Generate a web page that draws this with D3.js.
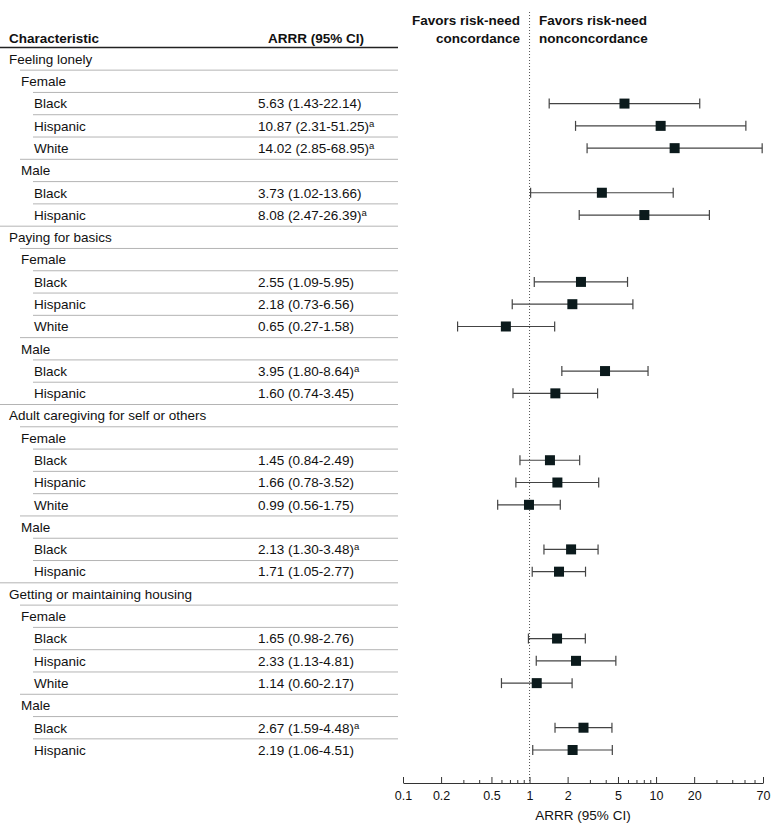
<!DOCTYPE html>
<html>
<head>
<meta charset="utf-8">
<script src="https://cdn.jsdelivr.net/npm/d3@7"></script>
<style>
  body { margin: 0; background: #fff; }
  svg { font-family: "Liberation Sans", Arial, sans-serif; }
</style>
</head>
<body>
<svg width="780" height="836"></svg>
<script>
////////////////////////////// DATA //////////////////////////////

// one entry per table row; level = indent (0 domain, 1 sex, 2 race)
var rowLabels = ['Feeling lonely', 'Female', 'Black', 'Hispanic', 'White', 'Male', 'Black', 'Hispanic',
                 'Paying for basics', 'Female', 'Black', 'Hispanic', 'White', 'Male', 'Black', 'Hispanic',
                 'Adult caregiving for self or others', 'Female', 'Black', 'Hispanic', 'White', 'Male', 'Black', 'Hispanic',
                 'Getting or maintaining housing', 'Female', 'Black', 'Hispanic', 'White', 'Male', 'Black', 'Hispanic'];
var rowLevels = [0,1,2,2,2,1,2,2, 0,1,2,2,2,1,2,2, 0,1,2,2,2,1,2,2, 0,1,2,2,2,1,2,2];

var arrr   = [null,null,5.63,10.87,14.02,null,3.73,8.08,  null,null,2.55,2.18,0.65,null,3.95,1.60,
              null,null,1.45,1.66,0.99,null,2.13,1.71,  null,null,1.65,2.33,1.14,null,2.67,2.19];
var ciLow  = [null,null,1.43,2.31,2.85,null,1.02,2.47,  null,null,1.09,0.73,0.27,null,1.80,0.74,
              null,null,0.84,0.78,0.56,null,1.30,1.05,  null,null,0.98,1.13,0.60,null,1.59,1.06];
var ciHigh = [null,null,22.14,51.25,68.95,null,13.66,26.39,  null,null,5.95,6.56,1.58,null,8.64,3.45,
              null,null,2.49,3.52,1.75,null,3.48,2.77,  null,null,2.76,4.81,2.17,null,4.48,4.51];
// footnote a
var sigFlag = [0,0,0,1,1,0,0,1, 0,0,0,0,0,0,1,0, 0,0,0,0,0,0,1,0, 0,0,0,0,0,0,1,0];

var majorTicks = [0.1, 0.2, 0.5, 1, 2, 5, 10, 20, 70];
var minorTicks = [0.3, 0.4, 0.6, 0.7, 0.8, 0.9, 3, 4, 6, 7, 8, 9, 30, 40, 50, 60];

////////////////////////////// PARAMS //////////////////////////////

var svg = d3.select("svg");

var params = {'fontSize': 13.5,
              'indent': [9, 21, 34],
              'ruleStart': [0, 20, 33],
              'tableRight': 398,
              'numX': 258,
              'axisY': 783,
              'markSize': 10,
              'capHeight': 10};

var y = d3.scalePoint().domain(d3.range(rowLabels.length)).range([59, 750]);
var x = d3.scaleLog().domain([0.1, 70]).range([403, 763]);
var rowStep = y.step();

var fmt = d3.format('.2f');

////////////////////////////// TABLE //////////////////////////////

var table = svg.append('g').attr('class', 'table');

table.append('text').attr('x', params.indent[0]).attr('y', 42.5)
    .attr('font-size', params.fontSize).attr('font-weight', 'bold').attr('fill', '#111')
    .text('Characteristic');
table.append('text').attr('x', 268).attr('y', 42.5)
    .attr('font-size', params.fontSize).attr('font-weight', 'bold').attr('fill', '#111')
    .text('ARRR (95% CI)');
table.append('line').attr('x1', 0).attr('x2', params.tableRight)
    .attr('y1', 47.5).attr('y2', 47.5).attr('stroke', '#222').attr('stroke-width', 1.5);

// rules between rows start at the indent of the row below
var rules = d3.range(rowLabels.length - 1);
table.selectAll('line.rule').data(rules).enter().append('line')
    .attr('class', 'rule')
    .attr('x1', function(i) { return params.ruleStart[rowLevels[i + 1]]; })
    .attr('x2', params.tableRight)
    .attr('y1', function(i) { return y(i) + rowStep / 2; })
    .attr('y2', function(i) { return y(i) + rowStep / 2; })
    .attr('stroke', '#b4b4b4').attr('stroke-width', 1);

table.selectAll('text.label').data(rowLabels).enter().append('text')
    .attr('class', 'label')
    .attr('x', function(d, i) { return params.indent[rowLevels[i]]; })
    .attr('y', function(d, i) { return y(i) + 4.8; })
    .attr('font-size', params.fontSize).attr('fill', '#111')
    .text(function(d) { return d; });

var numRows = d3.range(rowLabels.length).filter(function(i) { return arrr[i] != null; });

var nums = table.selectAll('text.num').data(numRows).enter().append('text')
    .attr('class', 'num')
    .attr('x', params.numX)
    .attr('y', function(i) { return y(i) + 4.8; })
    .attr('font-size', params.fontSize).attr('fill', '#111');
nums.append('tspan').text(function(i) {
    return fmt(arrr[i]) + ' (' + fmt(ciLow[i]) + '-' + fmt(ciHigh[i]) + ')';
});
nums.filter(function(i) { return sigFlag[i]; }).append('tspan')
    .attr('font-size', 9.5).attr('dy', -4).text('a');

////////////////////////////// PLOT //////////////////////////////

var plot = svg.append('g').attr('class', 'plot');

plot.append('text').attr('x', 520).attr('y', 25).attr('text-anchor', 'end')
    .attr('font-size', params.fontSize).attr('font-weight', 'bold').attr('fill', '#111')
    .text('Favors risk-need');
plot.append('text').attr('x', 520).attr('y', 42.5).attr('text-anchor', 'end')
    .attr('font-size', params.fontSize).attr('font-weight', 'bold').attr('fill', '#111')
    .text('concordance');
plot.append('text').attr('x', 539).attr('y', 25)
    .attr('font-size', params.fontSize).attr('font-weight', 'bold').attr('fill', '#111')
    .text('Favors risk-need');
plot.append('text').attr('x', 539).attr('y', 42.5)
    .attr('font-size', params.fontSize).attr('font-weight', 'bold').attr('fill', '#111')
    .text('nonconcordance');

// reference line at 1
plot.append('line').attr('x1', x(1)).attr('x2', x(1))
    .attr('y1', 12).attr('y2', params.axisY)
    .attr('stroke', '#555').attr('stroke-width', 1).attr('stroke-dasharray', '1,2');

var est = plot.selectAll('g.est').data(numRows).enter().append('g').attr('class', 'est');

est.append('line')
    .attr('x1', function(i) { return x(ciLow[i]); })
    .attr('x2', function(i) { return x(ciHigh[i]); })
    .attr('y1', function(i) { return y(i); })
    .attr('y2', function(i) { return y(i); })
    .attr('stroke', '#444').attr('stroke-width', 1.2);
[ciLow, ciHigh].forEach(function(arr) {
    est.append('line')
        .attr('x1', function(i) { return x(arr[i]); })
        .attr('x2', function(i) { return x(arr[i]); })
        .attr('y1', function(i) { return y(i) - params.capHeight / 2; })
        .attr('y2', function(i) { return y(i) + params.capHeight / 2; })
        .attr('stroke', '#444').attr('stroke-width', 1.2);
});
est.append('rect')
    .attr('x', function(i) { return x(arrr[i]) - params.markSize / 2; })
    .attr('y', function(i) { return y(i) - params.markSize / 2; })
    .attr('width', params.markSize).attr('height', params.markSize)
    .attr('fill', '#0b1a1c');

////////////////////////////// AXIS //////////////////////////////

var axis = plot.append('g').attr('transform', 'translate(0,' + params.axisY + ')');

axis.append('g')
    .call(d3.axisBottom(x).tickValues(minorTicks).tickSize(-3).tickFormat(''))
    .call(function(g) { g.select('.domain').remove(); });

var major = axis.append('g')
    .call(d3.axisBottom(x).tickValues(majorTicks).tickSizeInner(-6).tickSizeOuter(0)
          .tickPadding(8).tickFormat(function(d) { return d; }));
major.selectAll('text').attr('font-size', 12.5).attr('fill', '#111')
    .attr('font-family', '"Liberation Sans", Arial, sans-serif');
axis.selectAll('line').attr('stroke', '#333');
major.select('.domain').attr('stroke', '#333');

axis.append('text').attr('x', (x.range()[0] + x.range()[1]) / 2).attr('y', 37)
    .attr('text-anchor', 'middle').attr('font-size', params.fontSize).attr('fill', '#111')
    .text('ARRR (95% CI)');
</script>
</body>
</html>
